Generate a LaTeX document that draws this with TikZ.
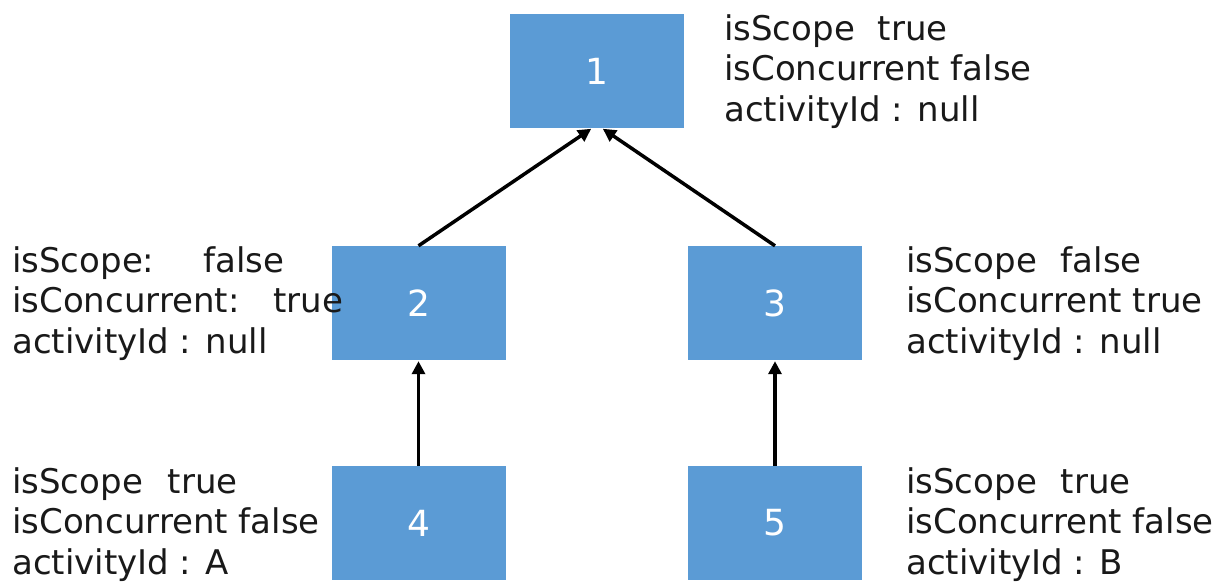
\documentclass[tikz,border=0pt]{standalone}
\usepackage{fontspec}
\setmainfont{DejaVu Sans}
\usetikzlibrary{arrows.meta}
\definecolor{boxblue}{RGB}{91,155,213}
\tikzset{
  state/.style={rectangle, fill=boxblue, draw=none, minimum width=174pt, minimum height=114pt,
    inner sep=0pt, text=white, font=\fontsize{36}{40}\selectfont},
  info/.style={anchor=base west, inner sep=0pt, text=black!90, font=\fontsize{34}{40.5}\selectfont},
  link/.style={line width=3.5pt, -{Triangle[length=13pt,width=13pt]}, shorten >=1pt}
}
\newcommand{\infolines}[3]{\vtop{\baselineskip=40.5pt\hbox{#1}\hbox{#2}\hbox{#3}}}
\begin{document}
\begin{tikzpicture}[x=1pt,y=-1pt]
  \useasboundingbox (0,0) rectangle (1226,581);

  % execution tree
  \node[state] (n1) at (597,71) {1};
  \node[state] (n2) at (418.5,303) {2};
  \node[state] (n3) at (775,303) {3};
  \node[state] (n4) at (418.5,523) {4};
  \node[state] (n5) at (775,523) {5};

  % parent links
  \draw[link] (n2.north) -- ([xshift=-5pt]n1.south);
  \draw[link] (n3.north) -- ([xshift=5pt]n1.south);
  \draw[link] (n4.north) -- (n2.south);
  \draw[link] (n5.north) -- (n3.south);

  % execution properties
  \node[info] (p1) at (724,40) {\infolines{isScope\hspace{23pt}true}{isConcurrent false}{activityId : null}};
  \node[info] (p2) at (12,272) {\infolines{isScope:\hspace{49pt}false}{isConcurrent:\hspace{34pt}true}{activityId : null}};
  \node[info] (p3) at (906,272) {\infolines{isScope\hspace{24pt}false}{isConcurrent true}{activityId : null}};
  \node[info] (p4) at (12,493) {\infolines{isScope\hspace{25pt}true}{isConcurrent false}{activityId : A}};
  \node[info] (p5) at (906,493) {\infolines{isScope\hspace{24pt}true}{isConcurrent false}{activityId : B}};
\end{tikzpicture}
\end{document}
